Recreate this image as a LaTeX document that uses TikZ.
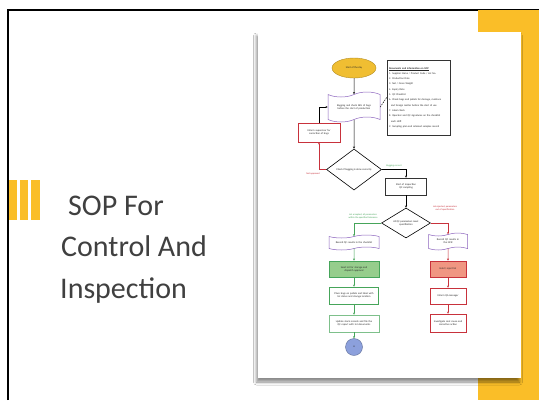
\documentclass[tikz,border=0pt]{standalone}
\usepackage{fontspec}
\setmainfont{Carlito}
\usetikzlibrary{shapes.geometric,shapes.symbols,arrows.meta,shadows.blur}
\definecolor{slideyellow}{RGB}{250,190,40}
\definecolor{titlegrey}{RGB}{64,64,64}
\definecolor{ovalyellow}{RGB}{240,190,50}
\definecolor{docpurple}{RGB}{140,100,190}
\definecolor{okgreen}{RGB}{70,165,90}
\definecolor{okfill}{RGB}{150,205,140}
\definecolor{badred}{RGB}{200,50,60}
\definecolor{badfill}{RGB}{240,150,130}
\definecolor{endblue}{RGB}{140,160,220}
\begin{document}
\begin{tikzpicture}[x=1pt,y=-1pt,
			every node/.style={font=\fontsize{2.6}{3.2}\selectfont, align=center, inner sep=0.5pt, text=black!85},
			title/.style={font=\fontsize{30}{36}\selectfont, text=titlegrey, anchor=base west, inner sep=0pt},
			lbl/.style={font=\fontsize{2.4}{3}\selectfont},
			arr/.style={line width=0.5pt, -{Stealth[length=2.2pt,width=2pt]}},
			startbox/.style={ellipse, draw=ovalyellow!75!black, fill=ovalyellow, line width=0.4pt, minimum width=44pt, minimum height=20pt},
			docbox/.style={tape, draw=docpurple, fill=white, line width=0.5pt, tape bend height=3pt},
			plainbox/.style={rectangle, draw, fill=white, line width=0.5pt},
			decision/.style={diamond, draw, fill=white, line width=0.6pt, aspect=1.4}
			]
			\useasboundingbox (0,0) rectangle (539,400);
			\fill[white] (0,0) rectangle (539,400);
			\draw[line width=2pt] (8,400) -- (8,10) -- (539,10);
			\fill[slideyellow] (478,10) rectangle (539,400);
			\fill[slideyellow] (9,180) rectangle (17,220);
			\fill[slideyellow] (20,180) rectangle (28,220);
			\fill[slideyellow] (31,180) rectangle (40,220);
			\node[title] (title1) at (68,215) {SOP For};
			\node[title] (title2) at (61,256.5) {Control And};
			\node[title] (title3) at (60,298) {Inspection};
			\fill[white, blur shadow={shadow xshift=-1.5pt, shadow yshift=-4pt, shadow blur radius=3pt, shadow opacity=45}] (258,32) rectangle (521,378);
			\node[startbox] (start) at (354,68) {Start of the day};
			\node[docbox, minimum width=52pt, minimum height=30pt, tape bend height=5pt, text width=46pt] (bagging) at (354,107) {Bagging and check SKU of bags before the start of production};
			\node[plainbox, draw=black!80, line width=0.7pt, minimum width=63pt, minimum height=75pt, text width=59pt, align=left, font=\fontsize{2.6}{5.3}\selectfont] (docs) at (418.5,97.5) {\underline{\textbf{Documents and information on SOP}}\\
				1. Supplier Name / Product Code / Lot No.\\
				2. Production Date\\
				3. Net / Gross Weight\\
				4. Expiry Date\\
				5. QC Checklist\\
				6. Check bags and pallets for damage, moisture\\
				\hspace{2pt}and foreign matter before the start of use\\
				7. Label check\\
				8. Operator and QC signatures on the checklist\\
				\hspace{2pt}each shift\\
				9. Sampling plan and retained samples record};
			\node[plainbox, draw=badred, minimum width=42pt, minimum height=19pt, text width=38pt] (inform) at (319,132.5) {Inform supervisor for correction of bags};
			\node[decision, minimum width=55pt, minimum height=41pt] (check) at (354,169.5) {Check if bagging is done correctly};
			\node[plainbox, draw=black!80, minimum width=41pt, minimum height=17pt, text width=37pt] (sampling) at (406,186.5) {Start of inspection\\QC sampling};
			\node[decision, minimum width=49pt, minimum height=30pt] (qc) at (406,223) {All QC parameters meet\\specification};
			\node[docbox, minimum width=50pt, minimum height=15pt, text width=46pt] (recordok) at (354,242.5) {Record QC results in the checklist};
			\node[plainbox, draw=okgreen, fill=okfill, line width=0.7pt, minimum width=50pt, minimum height=16pt, text width=46pt] (release) at (354,269) {Send lot for storage and\\dispatch approval};
			\node[plainbox, draw=okgreen, minimum width=49pt, minimum height=17pt, text width=45pt] (pallet) at (354,295.5) {Place bags on pallets and label with\\lot status and storage location};
			\node[plainbox, draw=okgreen!70, minimum width=50pt, minimum height=17pt, text width=46pt] (stock) at (354,323.5) {Update stock records and file the\\QC report with lot documents};
			\node[circle, draw=endblue!70!black, fill=endblue, line width=0.4pt, minimum size=17pt] (conn) at (354,347) {A};
			\node[docbox, minimum width=39pt, minimum height=17pt, text width=35pt] (recordbad) at (448,241.5) {Record QC results in\\the NCR};
			\node[plainbox, draw=badred, fill=badfill, line width=0.7pt, minimum width=36pt, minimum height=16pt] (hold) at (448,269) {Hold / reject lot};
			\node[plainbox, draw=badred, minimum width=36pt, minimum height=16pt] (qa) at (448,296) {Inform QA manager};
			\node[plainbox, draw=badred, minimum width=36pt, minimum height=18pt, text width=32pt] (action) at (448,323) {Investigate root cause and\\corrective action};
			\node[lbl, text=badred] (nolbl) at (313,173.5) {Not approved};
			\node[lbl, text=okgreen] (oklbl) at (394,165.5) {Bagging correct};
			\node[lbl, text=okgreen] (passlbl) at (363,216.5) {Lot accepted, all parameters\\within the specified tolerance};
			\node[lbl, text=badred] (faillbl) at (445,208) {Lot rejected, parameters\\out of specification};
			\draw[arr] (start) -- (bagging);
			\draw[arr] (bagging) -- (check);
			\draw[line width=0.5pt, dash pattern=on 1.5pt off 1pt] (bagging.east) -- (docs.west);
			\draw[arr, draw=badred] (check.west) -| (inform.south);
			\draw[arr] (inform.north) |- (bagging.west);
			\draw[arr] (check.east) -| (sampling.north);
			\draw[arr] (sampling) -- (qc);
			\draw[arr, draw=okgreen] (qc.west) -| (recordok.north);
			\draw[arr, draw=badred] (qc.east) -| (recordbad.north);
			\foreach \a/\b in {recordok/release, release/pallet, pallet/stock, stock/conn}
				\draw[arr, draw=okgreen] (\a) -- (\b);
			\foreach \a/\b in {recordbad/hold, hold/qa, qa/action}
				\draw[arr, draw=badred] (\a) -- (\b);
		\end{tikzpicture}
\end{document}
